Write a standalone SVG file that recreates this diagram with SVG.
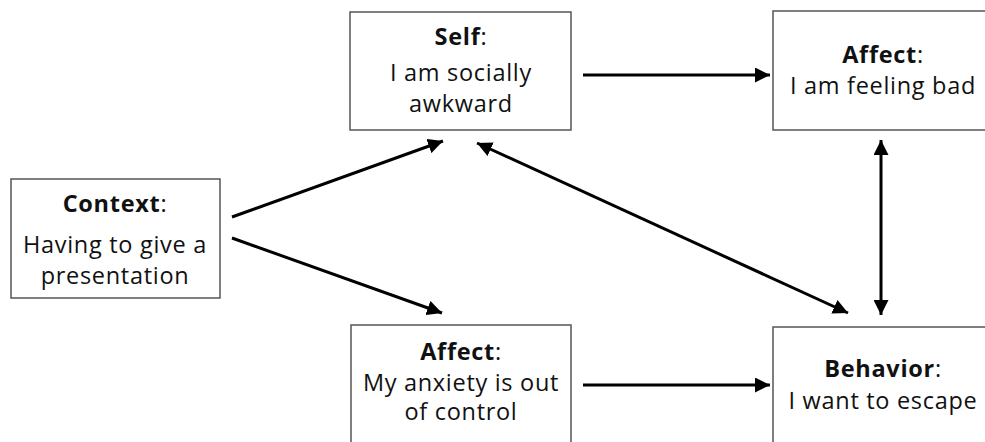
<svg xmlns="http://www.w3.org/2000/svg" width="985" height="442" viewBox="0 0 985 442">
<style>
rect.box{fill:#fff;stroke:#555;stroke-width:1.5}
text{font-family:"Open Sans","Liberation Sans",sans-serif;font-size:23.5px;letter-spacing:0.7px;fill:#111;text-anchor:middle}
.b{font-weight:bold}
.c{stroke:#000;stroke-width:3;fill:none}
</style>
<defs>
<marker id="ah" viewBox="0 0 10 10" refX="10" refY="5" markerWidth="5" markerHeight="5" markerUnits="strokeWidth" orient="auto-start-reverse">
<path d="M0,0 L10,5 L0,10 z" fill="#000"/>
</marker>
</defs>
<g id="self">
<rect class="box" x="350" y="12" width="221" height="118"/>
<text x="461" y="45"><tspan class="b">Self</tspan>:</text>
<text x="461" y="81">I am socially</text>
<text x="461" y="112">awkward</text>
</g>
<g id="affect-top">
<rect class="box" x="773" y="11" width="222" height="119"/>
<text x="883" y="63"><tspan class="b">Affect</tspan>:</text>
<text x="883" y="94">I am feeling bad</text>
</g>
<g id="context">
<rect class="box" x="11" y="179" width="209" height="119"/>
<text x="115" y="212"><tspan class="b">Context</tspan>:</text>
<text x="115" y="253">Having to give a</text>
<text x="115" y="284">presentation</text>
</g>
<g id="affect-bottom">
<rect class="box" x="351" y="325" width="220" height="130"/>
<text x="461" y="360"><tspan class="b">Affect</tspan>:</text>
<text x="461" y="391">My anxiety is out</text>
<text x="461" y="420">of control</text>
</g>
<g id="behavior">
<rect class="box" x="773" y="327" width="222" height="130"/>
<text x="883" y="377"><tspan class="b">Behavior</tspan>:</text>
<text x="883" y="409">I want to escape</text>
</g>
<g id="connectors">
<line class="c" x1="583" y1="75" x2="770" y2="75" marker-end="url(#ah)"/>
<line class="c" x1="232" y1="217" x2="443" y2="141" marker-end="url(#ah)"/>
<line class="c" x1="232" y1="238" x2="442" y2="313" marker-end="url(#ah)"/>
<line class="c" x1="583" y1="385" x2="770" y2="385" marker-end="url(#ah)"/>
<line class="c" x1="881" y1="140" x2="881" y2="315" marker-start="url(#ah)" marker-end="url(#ah)"/>
<line class="c" x1="477" y1="143" x2="848" y2="313" marker-start="url(#ah)" marker-end="url(#ah)"/>
</g>
</svg>
